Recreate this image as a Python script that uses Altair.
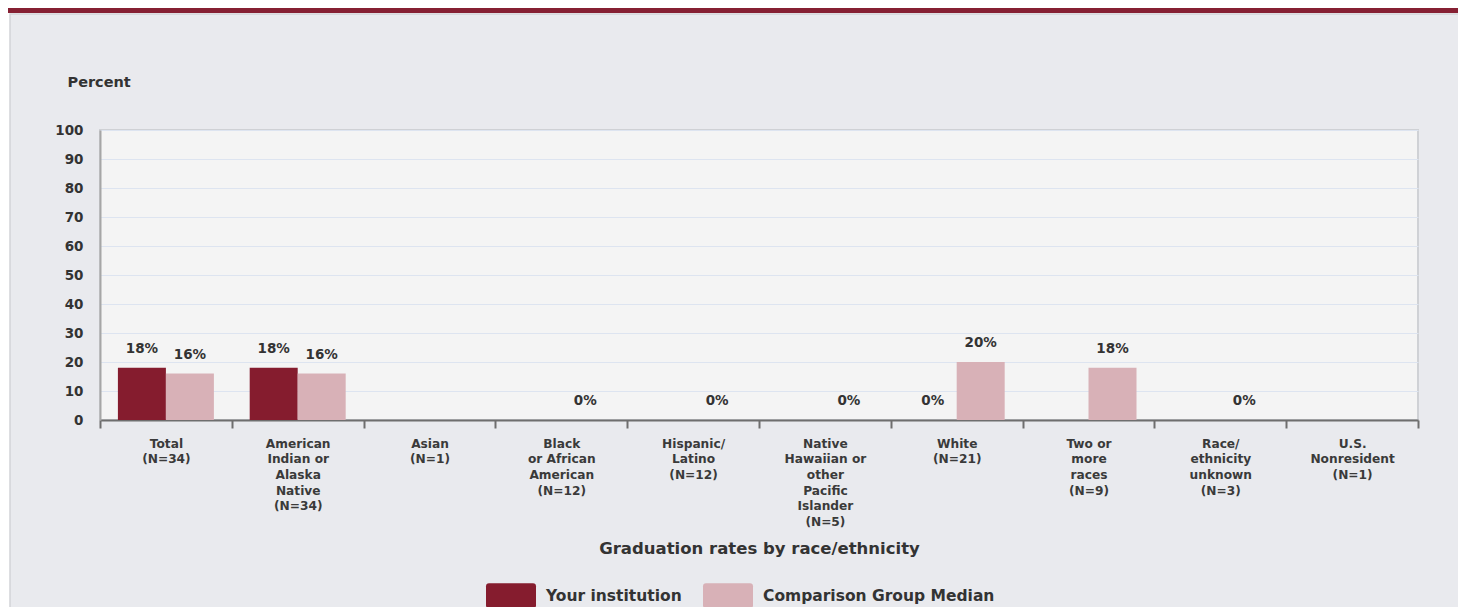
import altair as alt
import pandas as pd

categories = [
    "Total|(N=34)",
    "American|Indian or|Alaska|Native|(N=34)",
    "Asian|(N=1)",
    "Black|or African|American|(N=12)",
    "Hispanic/|Latino|(N=12)",
    "Native|Hawaiian or|other|Pacific|Islander|(N=5)",
    "White|(N=21)",
    "Two or|more|races|(N=9)",
    "Race/|ethnicity|unknown|(N=3)",
    "U.S.|Nonresident|(N=1)",
]
series = ["Your institution", "Comparison Group Median"]
your_institution = [18, 18, None, None, None, None, 0, None, None, None]
comparison_median = [16, 16, None, 0, 0, 0, 20, 18, 0, None]
y_ticks = [0, 10, 20, 30, 40, 50, 60, 70, 80, 90, 100]
colors = ["#851c2e", "#d8b1b7"]

rows = []
for i, c in enumerate(categories):
    rows.append({"category": c, "series": series[0], "value": your_institution[i]})
    rows.append({"category": c, "series": series[1], "value": comparison_median[i]})
df = pd.DataFrame(rows)

FONT = "DejaVu Sans"
TXT = "#333333"

x_enc = alt.X(
    "category:N",
    scale=alt.Scale(domain=categories, paddingInner=0, paddingOuter=0),
    title="Graduation rates by race/ethnicity",
    axis=alt.Axis(
        labelExpr="split(datum.label, '|')",
        labelAngle=0,
        labelFont=FONT,
        labelFontWeight="bold",
        labelFontSize=12.2,
        labelColor="#3a3a3a",
        labelLineHeight=15.7,
        labelPadding=9,
        labelBaseline="top",
        labelOverlap=False,
        tickBand="extent",
        tickSize=8,
        tickWidth=2,
        tickColor="#6e6e6e",
        domainColor="#6e6e6e",
        domainWidth=2,
        grid=False,
        titleFont=FONT,
        titleFontSize=16.5,
        titleFontWeight="bold",
        titleColor=TXT,
        titleY=128,
        titleBaseline="middle",
    ),
)
xoff_enc = alt.XOffset(
    "series:N",
    scale=alt.Scale(domain=series, paddingInner=0, paddingOuter=0.373),
)
y_enc = alt.Y(
    "value:Q",
    scale=alt.Scale(domain=[0, 100], nice=False),
    title="Percent",
    axis=alt.Axis(
        values=y_ticks,
        grid=True,
        gridColor="#dde4f0",
        gridWidth=1,
        ticks=False,
        labelPadding=17,
        labelFont=FONT,
        labelFontWeight="bold",
        labelFontSize=13.5,
        labelColor=TXT,
        domainColor="#a6a6a6",
        domainWidth=2,
        titleAngle=0,
        titleX=-33,
        titleY=-48,
        titleAlign="left",
        titleBaseline="middle",
        titleFont=FONT,
        titleFontSize=14.5,
        titleFontWeight="bold",
        titleColor=TXT,
    ),
)
rounded = ("M-0.88,-0.5 L0.88,-0.5 Q1,-0.5 1,-0.38 L1,0.38 Q1,0.5 0.88,0.5 "
           "L-0.88,0.5 Q-1,0.5 -1,0.38 L-1,-0.38 Q-1,-0.5 -0.88,-0.5 Z")
color_enc = alt.Color(
    "series:N",
    scale=alt.Scale(domain=series, range=colors),
    legend=alt.Legend(
        title=None,
        orient="none",
        legendX=386,
        legendY=440.5,
        direction="horizontal",
        symbolType=rounded,
        symbolSize=2500,
        symbolStrokeWidth=0,
        symbolOpacity=1,
        labelFont=FONT,
        labelFontSize=15.5,
        labelFontWeight="bold",
        labelColor=TXT,
        labelOffset=10,
        labelLimit=400,
        columnPadding=21,
        padding=0,
    ),
)

dummy = pd.DataFrame({"d": [0]})
white_strip = alt.Chart(dummy).mark_rect(fill="white").encode(
    x=alt.value(-92), x2=alt.value(1366), y=alt.value(-122), y2=alt.value(-116)
)
left_strip = alt.Chart(dummy).mark_rect(fill="white").encode(
    x=alt.value(-92), x2=alt.value(-90), y=alt.value(-122), y2=alt.value(485)
)
red_band = alt.Chart(dummy).mark_rect(fill="#862033").encode(
    x=alt.value(-92), x2=alt.value(1366), y=alt.value(-122), y2=alt.value(-117)
)
panel_border = alt.Chart(dummy).mark_rect(fill=None, stroke="#d2d3d7", strokeWidth=1.5).encode(
    x=alt.value(-90), x2=alt.value(1380), y=alt.value(-116), y2=alt.value(500)
)

base = alt.Chart(df).transform_filter("isValid(datum.value)")
bars = base.mark_bar().encode(x=x_enc, xOffset=xoff_enc, y=y_enc, color=color_enc)
labels = base.transform_calculate(
    lbl="format(datum.value, '.0f') + '%'"
).mark_text(
    dy=-19, font=FONT, fontSize=13.5, fontWeight="bold", color=TXT, baseline="middle"
).encode(x=x_enc, xOffset=xoff_enc, y=y_enc, text="lbl:N")

chart = alt.layer(white_strip, left_strip, red_band, panel_border, bars, labels).properties(
    width=1318,
    height=290,
    padding={"left": 92, "top": 122, "right": 40, "bottom": 187},
    autosize=alt.AutoSizeParams(type="none"),
    background="#e9eaee",
).configure_view(stroke="#cfd1d5", strokeWidth=2, fill="#f4f4f4")

chart.save("out.html", embed_options={"renderer": "svg", "actions": False})
